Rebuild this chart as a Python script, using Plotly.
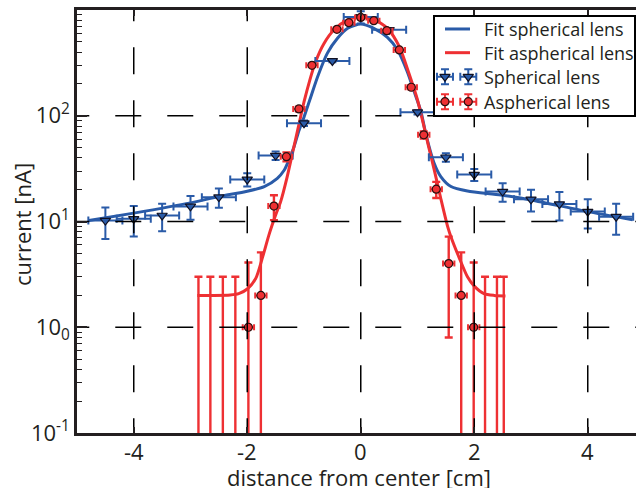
import plotly.graph_objects as go

# ---- measured beam current, spherical lens ----
sph_x = [-4.5, -4.0, -3.5, -3.0, -2.5, -2.0, -1.5, -1.0, -0.5, 0.0,
         0.5, 1.0, 1.5, 2.0, 2.5, 3.0, 3.5, 4.0, 4.5]
sph_y = [10.2, 10.6, 11.4, 13.9, 17.0, 25.0, 42.0, 85.0, 330.0, 860.0,
         650.0, 108.0, 40.5, 27.8, 19.2, 16.2, 14.6, 12.4, 11.1]
sph_yerr = [3.35, 3.4, 3.3, 3.5, 3.5, 3.6, 3.8, 5.0, 10.0, 115.0,
            15.0, 5.0, 3.8, 3.6, 3.8, 3.8, 4.4, 3.8, 3.6]
sph_xerr = 0.3

# ---- measured beam current, aspherical lens ----
asph_x = [-2.86, -2.65, -2.43, -2.21, -1.98, -1.76, -1.53, -1.31, -1.09, -0.86,
          -0.42, -0.21, 0.0, 0.23, 0.46, 0.68, 0.89, 1.11, 1.33, 1.55,
          1.77, 1.99, 2.19, 2.40, 2.52]
asph_y = [0.0, 0.0, 0.0, 0.0, 1.0, 2.0, 14.0, 41.0, 116.0, 300.0,
          656.0, 759.0, 850.0, 793.0, 637.0, 419.0, 186.0, 66.0, 20.2, 4.0,
          2.0, 1.0, 0.0, 0.0, 0.0]
asph_yerr = [3.0, 3.0, 3.0, 3.0, 3.1, 3.1, 3.7, 4.0, 6.0, 10.0,
             20.0, 25.0, 30.0, 25.0, 20.0, 15.0, 8.0, 5.0, 3.5, 3.2,
             3.1, 3.1, 3.0, 3.0, 3.0]
asph_xerr = 0.1

# ---- fitted profiles ----
sph_fit_x = [-4.79, -4.0, -3.0, -2.5, -2.0, -1.7, -1.47, -1.35, -1.29, -1.175,
             -1.087, -1.0, -0.9, -0.76, -0.59, -0.41, -0.23, 0.0, 0.23, 0.47,
             0.65, 0.82, 0.94, 1.06, 1.15, 1.29, 1.41, 1.59, 1.88, 2.47,
             3.0, 4.0, 4.79]
sph_fit_y = [10.2, 12.0, 15.0, 17.2, 19.3, 21.4, 25.6, 30.5, 35.5, 51.0,
             73.0, 97.0, 140.0, 234.0, 389.0, 540.0, 671.0, 738.0, 671.0, 552.0,
             419.0, 261.0, 170.0, 110.0, 66.0, 36.0, 26.6, 21.4, 19.4, 17.8,
             16.0, 12.4, 10.4]

asph_fit_x = [-2.88, -2.6, -2.3, -2.15, -2.0, -1.85, -1.73, -1.62, -1.5, -1.41,
              -1.3, -1.2, -1.1, -1.0, -0.9, -0.8, -0.65, -0.47, -0.23, 0.0,
              0.23, 0.47, 0.68, 0.85, 1.0, 1.1, 1.2, 1.3, 1.41, 1.53,
              1.6, 1.73, 1.88, 2.0, 2.17, 2.35, 2.55]
asph_fit_y = [2.0, 2.0, 2.02, 2.08, 2.3, 2.9, 4.6, 7.4, 11.5, 15.5,
              26.0, 45.0, 78.0, 135.0, 215.0, 320.0, 480.0, 650.0, 805.0, 865.0,
              817.0, 671.0, 450.0, 251.0, 141.0, 85.0, 50.0, 30.0, 16.5, 9.0,
              6.9, 4.6, 3.0, 2.45, 2.08, 2.0, 1.98]

# ---- axes ----
x_ticks = [-4, -2, 0, 2, 4]
x_ticktext = ["-4", "-2", "0", "2", "4"]
y_ticks = [0.1, 1, 10, 100, 1000]
y_ticktext = ["10<sup>-1</sup>", "10<sub>0</sub>", "10<sup>1</sup>",
              "10<sup>2</sup>", "10<sup>3</sup>"]
y_minor = [m * 10.0 ** e for e in (-1, 0, 1, 2) for m in range(2, 10)]
grid_x = [-4, -2, 0, 2, 4]
grid_y = [1, 10, 100]

legend_labels = ["Fit spherical lens", "Fit aspherical lens",
                 "Spherical lens", "Aspherical lens"]

BLUE = "#2a5ba8"
RED = "#ee3033"
INK = "#231f20"
FONT = "Open Sans"

# a log axis cannot place zero; zero readings sit far below the visible range
LOG_FLOOR = 1e-6
asph_y_plot = [v if v > 0 else LOG_FLOOR for v in asph_y]

fig = go.Figure()

# fitted curves
fig.add_trace(go.Scatter(x=sph_fit_x, y=sph_fit_y, mode="lines",
                         line=dict(color=BLUE, width=3, shape="spline", smoothing=0.7),
                         showlegend=False, hoverinfo="skip"))
fig.add_trace(go.Scatter(x=asph_fit_x, y=asph_fit_y, mode="lines",
                         line=dict(color=RED, width=3, shape="spline", smoothing=0.7),
                         showlegend=False, hoverinfo="skip"))

# measurements with error bars
fig.add_trace(go.Scatter(
    x=sph_x, y=sph_y, mode="markers",
    marker=dict(symbol="triangle-down", size=9, color=BLUE,
                line=dict(color="#111122", width=1.2)),
    error_y=dict(type="data", array=sph_yerr, color=BLUE, thickness=2, width=4),
    error_x=dict(type="constant", value=sph_xerr, color=BLUE, thickness=2, width=4),
    showlegend=False))
fig.add_trace(go.Scatter(
    x=asph_x, y=asph_y_plot, mode="markers",
    marker=dict(symbol="circle", size=8, color=RED,
                line=dict(color="#2a1010", width=1.2)),
    error_y=dict(type="data", array=asph_yerr, color=RED, thickness=2.4, width=4),
    error_x=dict(type="constant", value=asph_xerr, color=RED, thickness=2, width=3),
    showlegend=False))

# dashed grid drawn on top of the data
for gx in grid_x:
    fig.add_trace(go.Scatter(x=[gx, gx], y=[10 ** 3.15, 0.05], mode="lines",
                             line=dict(color="black", width=1.5, dash="27px,26px"),
                             showlegend=False, hoverinfo="skip"))
for gy in grid_y:
    fig.add_trace(go.Scatter(x=[-5.242, 5.0], y=[gy, gy], mode="lines",
                             line=dict(color="black", width=1.5, dash="26px,26px"),
                             showlegend=False, hoverinfo="skip"))

# legend box (own subplot in pixel-like units)
leg_rows = [12, 35.7, 59.7, 84.7]
fig.add_trace(go.Scatter(x=[10, 35], y=[leg_rows[0]] * 2, mode="lines",
                         line=dict(color=BLUE, width=3), xaxis="x2", yaxis="y2",
                         showlegend=False, hoverinfo="skip"))
fig.add_trace(go.Scatter(x=[10, 35], y=[leg_rows[1]] * 2, mode="lines",
                         line=dict(color=RED, width=3), xaxis="x2", yaxis="y2",
                         showlegend=False, hoverinfo="skip"))
fig.add_trace(go.Scatter(
    x=[10, 33.3], y=[leg_rows[2]] * 2, mode="markers", xaxis="x2", yaxis="y2",
    marker=dict(symbol="triangle-down", size=9, color=BLUE,
                line=dict(color="#111122", width=1.2)),
    error_y=dict(type="constant", value=7.5, color=BLUE, thickness=2, width=4),
    error_x=dict(type="constant", value=8, color=BLUE, thickness=2, width=4),
    showlegend=False, hoverinfo="skip"))
fig.add_trace(go.Scatter(
    x=[10, 33.3], y=[leg_rows[3]] * 2, mode="markers", xaxis="x2", yaxis="y2",
    marker=dict(symbol="circle", size=8, color=RED,
                line=dict(color="#2a1010", width=1.2)),
    error_y=dict(type="constant", value=7.5, color=RED, thickness=2, width=4),
    error_x=dict(type="constant", value=8, color=RED, thickness=2, width=4),
    showlegend=False, hoverinfo="skip"))

annotations = []
for label, row in zip(legend_labels, leg_rows):
    annotations.append(dict(x=47, y=row, xref="x2", yref="y2", text=label,
                            showarrow=False, xanchor="left", yanchor="middle",
                            font=dict(family=FONT, size=18, color=INK)))
# x tick labels
for tv, tt in zip(x_ticks, x_ticktext):
    annotations.append(dict(x=tv, y=-0.043, xref="x", yref="paper", text=tt,
                            showarrow=False, xanchor="center", yanchor="middle",
                            font=dict(family=FONT, size=22, color=INK)))
annotations.append(dict(x=0.5045, y=-0.105, xref="paper", yref="paper",
                        text="distance from center [cm]", showarrow=False,
                        xanchor="center", yanchor="middle",
                        font=dict(family=FONT, size=22, color=INK)))
annotations.append(dict(x=-0.098, y=0.492, xref="paper", yref="paper",
                        text="current [nA]", showarrow=False, textangle=-90,
                        xanchor="center", yanchor="middle",
                        font=dict(family=FONT, size=22, color=INK)))

fig.update_layout(
    width=636, height=488,
    margin=dict(l=77, r=0, t=10, b=55, autoexpand=False),
    paper_bgcolor="white", plot_bgcolor="white",
    showlegend=False,
    font=dict(family=FONT, size=22, color=INK),
    annotations=annotations,
    xaxis=dict(range=[-5, 4.85], tickmode="array", tickvals=x_ticks,
               ticks="inside", ticklen=6, tickwidth=1.5,
               tickcolor=INK, showline=True, linewidth=2.5, linecolor=INK,
               mirror="ticks", showgrid=False, zeroline=False,
               showticklabels=False),
    yaxis=dict(type="log", range=[-1, 3], tickmode="array", tickvals=y_ticks,
               ticktext=y_ticktext, ticks="inside", ticklen=10, tickwidth=1.5,
               tickcolor=INK, showline=True, linewidth=2.5, linecolor=INK,
               mirror=False, showgrid=False, zeroline=False,
               minor=dict(tickmode="array", tickvals=y_minor, ticks="inside",
                          ticklen=5, tickwidth=1, tickcolor=INK, showgrid=False),
               tickfont=dict(family=FONT, size=22, color=INK)),
    xaxis2=dict(domain=[0.6404, 0.9964], range=[0, 199], anchor="y2",
                showline=True, mirror=True, linewidth=1.5, linecolor="black",
                showticklabels=False, ticks="", showgrid=False, zeroline=False,
                fixedrange=True),
    yaxis2=dict(domain=[0.7518, 0.9835], range=[98, 0], anchor="x2",
                showline=True, mirror=True, linewidth=1.5, linecolor="black",
                showticklabels=False, ticks="", showgrid=False, zeroline=False,
                fixedrange=True),
)

fig.write_html("out.html")
